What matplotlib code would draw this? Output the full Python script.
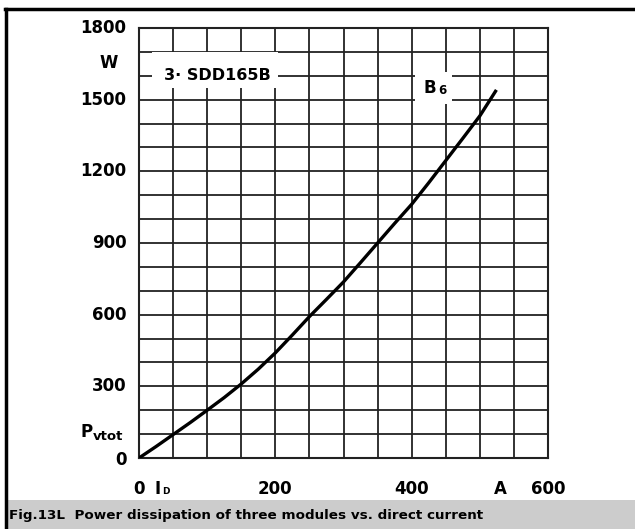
import matplotlib
matplotlib.use("Agg")
import matplotlib.pyplot as plt
from matplotlib.patches import Rectangle
from matplotlib.lines import Line2D

plt.rcParams['font.family'] = ['DejaVu Sans']
plt.rcParams['font.weight'] = 'bold'

# Data
current_A = [0, 25, 50, 75, 100, 125, 150, 175, 200, 225, 250, 275, 300,
             325, 350, 375, 400, 425, 450, 475, 500, 523]
power_W = [0, 48, 98, 148, 200, 253, 310, 372, 440, 515, 592, 664, 737,
           818, 900, 982, 1062, 1152, 1245, 1338, 1432, 1535]

x_tick_values = [0, 200, 400, 600]
x_tick_labels = ["0", "200", "400", "600"]
y_tick_values = [0, 300, 600, 900, 1200, 1500, 1800]
y_tick_labels = ["0", "300", "600", "900", "1200", "1500", "1800"]

W, H = 635, 529
fig = plt.figure(figsize=(W / 100, H / 100), dpi=100)

def fx(px):
    return px / W

def fy(py):
    return 1 - py / H

def ptext(px, py, s, **kw):
    kw.setdefault('fontweight', 'bold')
    return fig.text(fx(px), fy(py), s, **kw)

ax = fig.add_axes([fx(139), fy(458), fx(548) - fx(139), fy(28) - fy(458)])
ax.set_xlim(0, 600)
ax.set_ylim(0, 1800)

grid_c = '#222222'
ax.set_xticks(range(0, 601, 50))
ax.set_yticks(range(0, 1801, 100))
ax.grid(True, color=grid_c, linewidth=1.3)
ax.tick_params(length=0, labelbottom=False, labelleft=False)
for s in ax.spines.values():
    s.set_color(grid_c)
    s.set_linewidth(1.5)

ax.plot(current_A, power_W, color='black', linewidth=2.4, zorder=5)

fs = 12
# y tick labels (positioned through the axis scale)
for v, lab in zip(y_tick_values, y_tick_labels):
    yy = v if v > 0 else -10
    ax.annotate(lab, xy=(0, yy), xycoords=('axes fraction', 'data'),
                xytext=(-9, 0), textcoords='offset points',
                ha='right', va='center', fontsize=fs, fontweight='bold')
# x tick labels
for v, lab in zip(x_tick_values, x_tick_labels):
    ax.annotate(lab, xy=(v, 0), xycoords=('data', 'axes fraction'),
                xytext=(0, -22.5), textcoords='offset points',
                ha='center', va='center', fontsize=fs, fontweight='bold')

# axis unit labels
ptext(109, 63, "W", ha='center', va='center', fontsize=fs)
ptext(80, 432, "P", ha='left', va='center', fontsize=fs)
ptext(93, 437, "vtot", ha='left', va='center', fontsize=9.5)
ptext(154, 489, "I", ha='left', va='center', fontsize=fs)
ptext(162, 492, "D", ha='left', va='center', fontsize=6.5)
ptext(500, 489, "A", ha='center', va='center', fontsize=fs)

# annotations with white backgrounds
fig.patches.append(Rectangle((fx(152), fy(88)), fx(278) - fx(152), fy(52) - fy(88),
                             transform=fig.transFigure, facecolor='white',
                             edgecolor='none', zorder=6))
ptext(217, 75, "3\u00b7 SDD165B", ha='center', va='center', fontsize=11.5, zorder=7)
fig.patches.append(Rectangle((fx(415), fy(104)), fx(452) - fx(415), fy(72) - fy(104),
                             transform=fig.transFigure, facecolor='white',
                             edgecolor='none', zorder=6))
ptext(430, 88, "B", ha='center', va='center', fontsize=12, zorder=7)
ptext(442, 90, "6", ha='center', va='center', fontsize=8.5, zorder=7)

# caption band
fig.patches.append(Rectangle((fx(7), 0), 1, fy(500), transform=fig.transFigure,
                             facecolor='#cccccc', edgecolor='none', zorder=0))
ptext(9, 515, "Fig.13L  Power dissipation of three modules vs. direct current",
      ha='left', va='center', fontsize=9.7)

# outer frame (top and left)
fig.lines.append(Line2D([fx(5), 1], [fy(8.5), fy(8.5)], transform=fig.transFigure,
                        color='black', linewidth=2.5))
fig.lines.append(Line2D([fx(6), fx(6)], [0, fy(8.5)], transform=fig.transFigure,
                        color='black', linewidth=2.5))

fig.savefig("out.png", dpi=100)
